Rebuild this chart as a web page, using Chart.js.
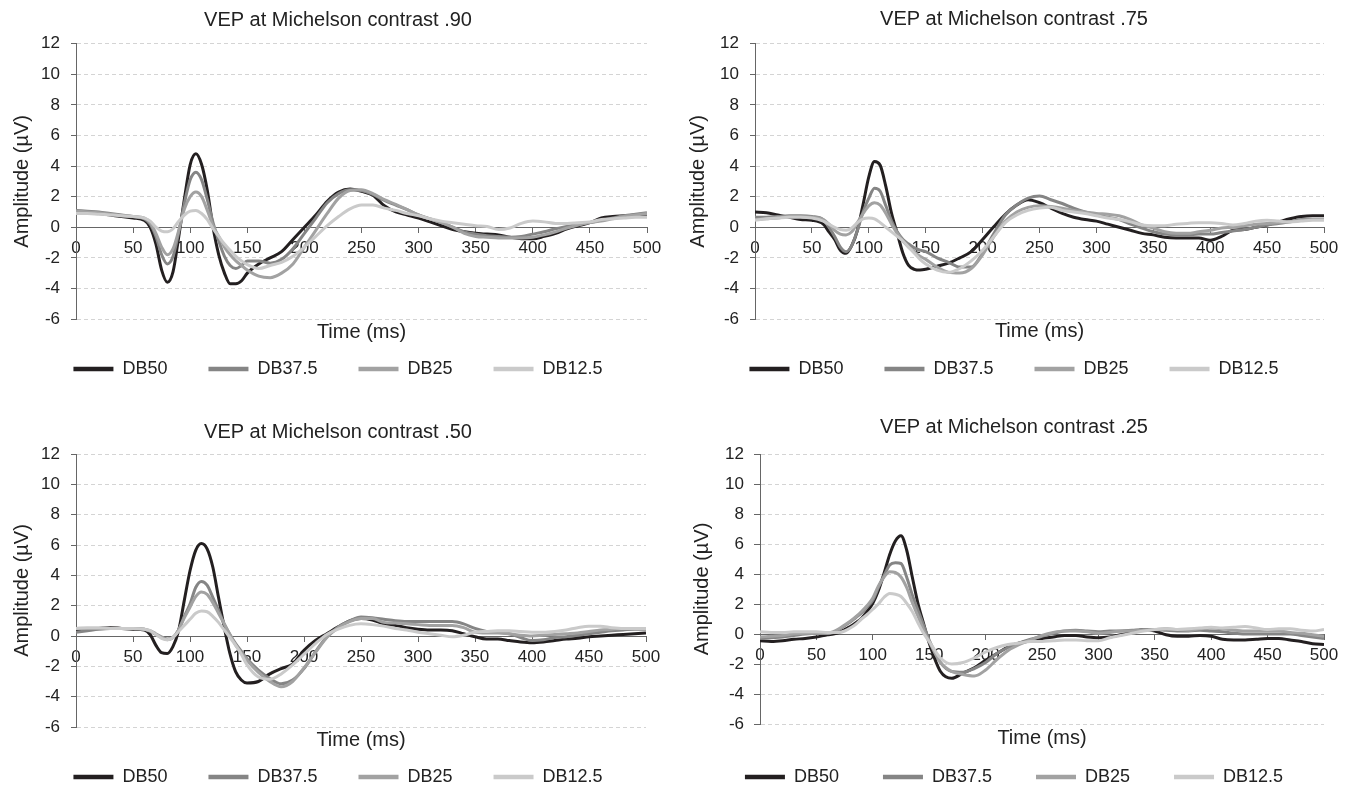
<!DOCTYPE html>
<html>
<head>
<meta charset="utf-8">
<title>VEP at Michelson contrast</title>
<script src="https://cdn.jsdelivr.net/npm/chart.js@4.4.1/dist/chart.umd.min.js"></script>
<style>
  html, body { margin: 0; padding: 0; background: #fff; }
  #page { position: relative; width: 1352px; height: 785px; overflow: hidden; }
  #page canvas { position: absolute; }
</style>
</head>
<body>
<div id="page">
  <canvas id="c90" width="676" height="392" style="left:0;top:0"></canvas>
  <canvas id="c75" width="676" height="392" style="left:676px;top:0"></canvas>
  <canvas id="c50" width="676" height="393" style="left:0;top:392px"></canvas>
  <canvas id="c25" width="676" height="393" style="left:676px;top:392px"></canvas>
</div>
<script>
// sample times (ms), shared by every trace
const TIME = [
  0, 10, 20, 30, 40, 50, 60,
  65, 70, 75, 80, 85, 90, 95, 100,
  105, 110, 115, 120, 125, 130, 135, 140, 145, 150,
  160, 170, 180, 190, 200, 210, 220, 230, 240, 250,
  260, 270, 280, 290, 300, 310, 320, 330, 340, 350,
  360, 370, 380, 390, 400, 410, 420, 430, 440, 450, 460, 470, 480, 490, 500
];

const SERIES_NAMES = ['DB50', 'DB37.5', 'DB25', 'DB12.5'];
const X_TICKS = [0, 50, 100, 150, 200, 250, 300, 350, 400, 450, 500];
const Y_TICKS = [-6, -4, -2, 0, 2, 4, 6, 8, 10, 12];

// contrast .90
const C90_DB50 = [
  1.0, 0.95, 0.9, 0.8, 0.7, 0.6, 0.45,
  0.0, -1.1, -2.8, -3.6, -2.9, -0.6, 1.9, 4.1,
  4.8, 4.1, 2.4, 0.0, -1.8, -3.0, -3.7, -3.7, -3.5, -3.0,
  -2.4, -2.0, -1.6, -0.8, 0.0, 0.8, 1.7, 2.3, 2.5, 2.35,
  2.1, 1.4, 1.0, 0.8, 0.6, 0.35, 0.1, -0.15, -0.3, -0.4,
  -0.45, -0.5, -0.65, -0.75, -0.75, -0.6, -0.4, -0.1, 0.1, 0.3, 0.6, 0.7, 0.75, 0.8, 0.85
];
const C90_DB37 = [
  1.1, 1.05, 1.0, 0.9, 0.8, 0.7, 0.55,
  0.2, -0.6, -1.8, -2.4, -1.9, -0.3, 1.6, 3.1,
  3.6, 3.1, 1.8, 0.3, -0.9, -1.9, -2.5, -2.7, -2.5, -2.2,
  -2.2, -2.35, -2.1, -1.4, -0.4, 0.6, 1.6, 2.2, 2.45, 2.4,
  2.15, 1.75, 1.45, 1.15, 0.8, 0.55, 0.3, 0.0, -0.3, -0.45,
  -0.55, -0.6, -0.65, -0.6, -0.45, -0.3, -0.1, 0.05, 0.2, 0.3, 0.45, 0.6, 0.75, 0.85, 0.95
];
const C90_DB25 = [
  1.05, 1.0, 0.95, 0.85, 0.75, 0.7, 0.6,
  0.3, -0.4, -1.3, -1.8, -1.4, -0.2, 1.2, 2.0,
  2.3, 2.0, 1.1, 0.1, -0.6, -1.3, -1.8, -2.2, -2.5, -2.8,
  -3.2, -3.3, -3.0, -2.4, -1.3, -0.2, 0.9, 1.9, 2.4, 2.45,
  2.2, 1.8, 1.5, 1.15, 0.8, 0.55, 0.3, 0.0, -0.4, -0.6,
  -0.65, -0.7, -0.7, -0.7, -0.65, -0.5, -0.3, -0.05, 0.15, 0.3, 0.4, 0.55, 0.7, 0.8, 0.9
];
const C90_DB12 = [
  0.9, 0.9, 0.85, 0.8, 0.75, 0.7, 0.6,
  0.4, 0.0, -0.25, -0.3, -0.1, 0.4, 0.8, 1.05,
  1.1, 0.9, 0.5, -0.1, -0.6, -1.1, -1.5, -1.9, -2.2, -2.45,
  -2.7, -2.5, -2.3, -1.9, -1.3, -0.6, 0.1, 0.7, 1.2, 1.45,
  1.45, 1.25, 1.1, 0.9, 0.75, 0.55, 0.4, 0.3, 0.2, 0.1,
  0.05, -0.15, -0.05, 0.25, 0.4, 0.35, 0.25, 0.25, 0.3, 0.35, 0.5, 0.55, 0.6, 0.65, 0.65
];

// contrast .75
const C75_DB50 = [
  1.0, 0.95, 0.8, 0.65, 0.5, 0.45, 0.2,
  -0.3, -0.8, -1.5, -1.7, -1.2, -0.2, 1.5, 3.3,
  4.3, 4.05, 2.65, 0.9, -0.4, -1.7, -2.5, -2.75, -2.8, -2.75,
  -2.55, -2.35, -2.0, -1.6, -0.8, 0.05, 0.85, 1.45, 1.8, 1.6,
  1.25, 0.9, 0.65, 0.5, 0.4, 0.2, 0.0, -0.2, -0.4, -0.5,
  -0.65, -0.7, -0.7, -0.7, -0.85, -0.6, -0.2, -0.15, 0.0, 0.15, 0.35, 0.55, 0.7, 0.75, 0.75
];
const C75_DB37 = [
  0.65, 0.65, 0.7, 0.75, 0.75, 0.7, 0.5,
  0.0, -0.6, -1.3, -1.6, -1.2, -0.2, 1.0, 1.9,
  2.55, 2.35, 1.4, 0.4, -0.3, -0.8, -1.1, -1.35, -1.5, -1.6,
  -2.0, -2.3, -2.6, -2.6, -1.7, -0.4, 0.8, 1.45, 1.9, 2.05,
  1.8, 1.55, 1.25, 1.0, 0.8, 0.65, 0.5, 0.2, -0.05, -0.3,
  -0.45, -0.5, -0.5, -0.45, -0.45, -0.35, -0.25, -0.15, 0.0, 0.15, 0.25, 0.35, 0.5, 0.5, 0.5
];
const C75_DB25 = [
  0.5, 0.55, 0.6, 0.7, 0.7, 0.65, 0.5,
  0.2, -0.2, -0.45, -0.5, -0.3, 0.3, 0.9, 1.4,
  1.6, 1.45, 0.9, 0.2, -0.4, -0.9, -1.3, -1.6, -1.9, -2.1,
  -2.6, -2.95, -3.0, -2.7, -1.8, -0.6, 0.4, 1.0, 1.3, 1.4,
  1.35, 1.25, 1.1, 1.0, 0.9, 0.85, 0.75, 0.5, 0.15, -0.05,
  -0.3, -0.4, -0.4, -0.3, -0.2, -0.05, 0.0, 0.1, 0.2, 0.25, 0.3, 0.35, 0.45, 0.5, 0.5
];
const C75_DB12 = [
  0.45, 0.55, 0.6, 0.65, 0.65, 0.6, 0.4,
  0.2, 0.0, -0.15, -0.2, -0.05, 0.3, 0.55, 0.6,
  0.55, 0.3, 0.0, -0.3, -0.6, -0.9, -1.3, -1.7, -2.1, -2.4,
  -2.8, -2.95, -2.7, -2.2, -1.5, -0.6, 0.3, 0.8, 1.1, 1.25,
  1.3, 1.1, 1.0, 0.9, 0.75, 0.6, 0.5, 0.35, 0.15, 0.1,
  0.1, 0.2, 0.25, 0.3, 0.3, 0.25, 0.15, 0.25, 0.4, 0.45, 0.4, 0.35, 0.4, 0.45, 0.45
];

// contrast .50
const C50_DB50 = [
  0.3, 0.45, 0.5, 0.55, 0.5, 0.45, 0.4,
  0.1, -0.6, -1.1, -1.15, -0.7, 0.35, 2.35, 4.3,
  5.65, 6.1, 5.75, 4.55, 2.55, 0.6, -1.15, -2.35, -2.9, -3.1,
  -3.0, -2.5, -2.15, -1.85, -0.95, -0.3, 0.15, 0.6, 1.0, 1.15,
  1.05, 0.8, 0.7, 0.55, 0.45, 0.4, 0.4, 0.35, 0.15, -0.05,
  -0.2, -0.2, -0.3, -0.4, -0.45, -0.4, -0.3, -0.2, -0.15, -0.05, 0.0, 0.05, 0.1, 0.15, 0.2
];
const C50_DB37 = [
  0.25, 0.35, 0.45, 0.5, 0.5, 0.5, 0.45,
  0.3, 0.1, -0.1, -0.2, -0.1, 0.4, 1.3, 2.1,
  3.2, 3.6, 3.35, 2.55, 1.7, 0.8, 0.1, -0.5, -1.0, -1.5,
  -2.25, -2.8, -3.15, -2.9, -2.15, -1.05, -0.05, 0.6, 1.0, 1.25,
  1.2, 1.1, 1.0, 0.95, 0.95, 0.95, 0.95, 0.95, 0.8, 0.5,
  0.3, 0.25, 0.15, -0.1, -0.3, -0.25, -0.1, -0.05, 0.05, 0.15, 0.25, 0.35, 0.4, 0.45, 0.45
];
const C50_DB25 = [
  0.5, 0.5, 0.5, 0.5, 0.5, 0.5, 0.45,
  0.35, 0.15, -0.05, -0.25, -0.1, 0.4, 1.2, 1.9,
  2.6, 2.9, 2.75, 2.2, 1.5, 0.8, 0.1, -0.6, -1.1, -1.6,
  -2.4, -3.0, -3.35, -3.0, -2.1, -1.1, -0.1, 0.55, 0.95, 1.15,
  1.15, 0.9, 0.85, 0.8, 0.75, 0.7, 0.7, 0.7, 0.55, 0.25,
  0.2, 0.2, 0.15, 0.05, 0.0, 0.05, 0.1, 0.15, 0.2, 0.3, 0.4, 0.45, 0.5, 0.5, 0.5
];
const C50_DB12 = [
  0.5, 0.55, 0.55, 0.5, 0.5, 0.5, 0.45,
  0.35, 0.1, -0.15, -0.25, -0.1, 0.3, 0.7, 1.1,
  1.5, 1.65, 1.6, 1.3, 0.9, 0.4, -0.1, -0.6, -1.2, -1.9,
  -2.7, -2.85, -2.5, -1.9, -1.2, -0.5, 0.1, 0.45, 0.7, 0.8,
  0.75, 0.65, 0.5, 0.4, 0.25, 0.15, 0.05, -0.05, 0.05, 0.25,
  0.3, 0.35, 0.35, 0.3, 0.25, 0.25, 0.3, 0.4, 0.55, 0.65, 0.65, 0.55, 0.5, 0.5, 0.5
];

// contrast .25
const C25_DB50 = [
  -0.45, -0.5, -0.45, -0.35, -0.3, -0.2, -0.05,
  0.0, 0.1, 0.3, 0.5, 0.75, 1.05, 1.5, 2.05,
  2.9, 4.05, 5.3, 6.2, 6.55, 5.6, 3.8, 2.05, 0.7, -0.6,
  -2.5, -2.95, -2.6, -2.25, -1.75, -1.3, -0.85, -0.6, -0.45, -0.3,
  -0.2, -0.1, -0.1, -0.2, -0.25, -0.2, -0.05, 0.1, 0.3, 0.2,
  -0.05, -0.15, -0.15, -0.1, -0.15, -0.35, -0.4, -0.4, -0.35, -0.3, -0.3, -0.4, -0.5, -0.65, -0.7
];
const C25_DB37 = [
  -0.3, -0.25, -0.2, -0.1, 0.0, 0.05, 0.05,
  0.1, 0.3, 0.55, 0.8, 1.1, 1.4, 1.8, 2.25,
  3.1, 3.9, 4.6, 4.75, 4.7, 3.8, 2.6, 1.6, 0.6, -0.4,
  -1.9, -2.5, -2.55, -2.3, -1.9, -1.3, -0.9, -0.6, -0.35, -0.15,
  0.05, 0.2, 0.25, 0.2, 0.15, 0.2, 0.2, 0.25, 0.3, 0.3,
  0.25, 0.2, 0.2, 0.25, 0.2, 0.15, 0.05, 0.0, 0.0, 0.0, 0.0, 0.0, -0.1, -0.2, -0.3
];
const C25_DB25 = [
  -0.2, -0.15, -0.1, 0.0, 0.05, 0.05, 0.05,
  0.15, 0.35, 0.6, 0.85, 1.15, 1.5, 1.9, 2.4,
  3.2, 3.8, 4.15, 4.1, 3.8, 3.1, 2.1, 1.2, 0.3, -0.5,
  -1.9, -2.5, -2.7, -2.8, -2.4, -1.7, -1.1, -0.7, -0.4, -0.1,
  0.1, 0.2, 0.2, 0.15, 0.05, 0.1, 0.2, 0.2, 0.25, 0.3,
  0.35, 0.3, 0.25, 0.35, 0.4, 0.35, 0.25, 0.2, 0.2, 0.2, 0.2, 0.1, 0.05, -0.05, -0.15
];
const C25_DB12 = [
  0.15, 0.1, 0.1, 0.15, 0.15, 0.15, 0.1,
  0.1, 0.1, 0.2, 0.4, 0.65, 1.0, 1.3, 1.65,
  2.0, 2.45, 2.7, 2.65, 2.5, 2.05, 1.5, 0.75, 0.05, -0.5,
  -1.6, -2.0, -1.9, -1.6, -1.2, -0.9, -0.7, -0.6, -0.5, -0.5,
  -0.45, -0.4, -0.4, -0.45, -0.45, -0.25, -0.1, 0.05, 0.2, 0.3,
  0.35, 0.3, 0.35, 0.4, 0.45, 0.4, 0.45, 0.5, 0.4, 0.3, 0.35, 0.35, 0.25, 0.2, 0.3
];

const SERIES_COLORS = ['#231f20', '#858585', '#a2a2a2', '#cacaca'];
const TEXT_COLOR = '#222222';
const AXIS_COLOR = '#666666';
const GRID_COLOR = '#d4d4d4';

Chart.defaults.font.family = '"Liberation Sans", Arial, sans-serif';
Chart.defaults.color = TEXT_COLOR;

// per-panel spacing, tuned against the reference picture
const LAYOUTS = {
  c90: {left: 76, right: 29, tickLen: 5, tickPad: 11, yTitlePad: 10.5, titlePad: {top: 8.3, bottom: 11.4}, xTitlePad: -25.5, legendPad: 41, bottomPad: 4},
  c75: {left: 79, right: 28, tickLen: 5, tickPad: 11, yTitlePad: 10.5, titlePad: {top: 7.7, bottom: 12}, xTitlePad: -24.7, legendPad: 41, bottomPad: 4},
  c50: {left: 76, right: 30, tickLen: 5, tickPad: 11, yTitlePad: 10.5, titlePad: {top: 28.8, bottom: 9.2}, xTitlePad: -25.3, legendPad: 41, bottomPad: -11},
  c25: {left: 84, right: 28, tickLen: 6, tickPad: 10, yTitlePad: 14, titlePad: {top: 23.8, bottom: 14.2}, xTitlePad: -26.7, legendPad: 44, bottomPad: -11}
};

function buildDatasets(series) {
  return SERIES_NAMES.map((name, i) => ({
    label: name,
    data: TIME.map((t, k) => ({x: t, y: series[i][k]})),
    borderColor: SERIES_COLORS[i],
    backgroundColor: SERIES_COLORS[i],
    borderWidth: 3,
    pointRadius: 0,
    cubicInterpolationMode: 'monotone',
    fill: false,
    order: SERIES_NAMES.length - i,
    xAxisID: 'x',
    yAxisID: 'y'
  }));
}

function drawPanel(id, title, series) {
  const L = LAYOUTS[id];
  const baseLabels = Chart.defaults.plugins.legend.labels.generateLabels;
  new Chart(document.getElementById(id), {
    type: 'line',
    data: {datasets: buildDatasets(series)},
    options: {
      responsive: false,
      animation: false,
      events: [],
      layout: {padding: {left: 0, right: 0, top: 0, bottom: L.bottomPad}},
      plugins: {
        title: {
          display: true,
          text: title,
          color: TEXT_COLOR,
          font: {size: 20, weight: 'normal'},
          padding: L.titlePad
        },
        legend: {
          position: 'bottom',
          labels: {
            usePointStyle: true,
            pointStyle: 'line',
            pointStyleWidth: 40,
            padding: L.legendPad,
            color: TEXT_COLOR,
            font: {size: 18},
            sort: (a, b) => a.datasetIndex - b.datasetIndex,
            generateLabels: (chart) => baseLabels(chart).map(item => Object.assign(item, {
              lineWidth: 4.5,
              strokeStyle: SERIES_COLORS[item.datasetIndex],
              pointStyle: 'line'
            }))
          }
        },
        tooltip: {enabled: false}
      },
      scales: {
        x: {
          type: 'linear',
          position: {y: 0},
          min: X_TICKS[0],
          max: X_TICKS[X_TICKS.length - 1],
          afterFit: (s) => { s.height = 0; },
          afterBuildTicks: (s) => { s.ticks = X_TICKS.map(v => ({value: v})); },
          ticks: {autoSkip: false, maxRotation: 0, padding: 6.3, color: TEXT_COLOR, font: {size: 17}},
          grid: {drawOnChartArea: false, drawTicks: true, tickLength: 5, tickColor: AXIS_COLOR, color: AXIS_COLOR},
          border: {display: true, color: AXIS_COLOR, width: 1}
        },
        x2: {
          type: 'linear',
          axis: 'x',
          position: 'bottom',
          min: 0,
          max: 1,
          afterFit: (s) => { s.height = 0; },
          ticks: {display: false},
          grid: {display: false},
          border: {display: false},
          title: {display: true, text: 'Time (ms)', color: TEXT_COLOR, font: {size: 20}, padding: {top: 0, bottom: L.xTitlePad}}
        },
        y: {
          type: 'linear',
          position: 'left',
          min: Y_TICKS[0],
          max: Y_TICKS[Y_TICKS.length - 1],
          afterFit: (s) => { s.width = L.left; },
          afterBuildTicks: (s) => { s.ticks = Y_TICKS.map(v => ({value: v})); },
          ticks: {padding: L.tickPad, color: TEXT_COLOR, font: {size: 17}},
          grid: {color: GRID_COLOR, lineWidth: 1, drawTicks: true, tickLength: L.tickLen, tickColor: AXIS_COLOR, tickBorderDash: []},
          border: {display: true, color: AXIS_COLOR, width: 1, dash: [4, 3]},
          title: {display: true, text: 'Amplitude (µV)', color: TEXT_COLOR, font: {size: 20}, padding: {top: L.yTitlePad, bottom: 0}}
        },
        yRight: {
          type: 'linear',
          axis: 'y',
          position: 'right',
          min: 0,
          max: 1,
          afterFit: (s) => { s.width = L.right; },
          ticks: {display: false},
          grid: {display: false},
          border: {display: false}
        }
      }
    }
  });
}

drawPanel('c90', 'VEP at Michelson contrast .90', [C90_DB50, C90_DB37, C90_DB25, C90_DB12]);
drawPanel('c75', 'VEP at Michelson contrast .75', [C75_DB50, C75_DB37, C75_DB25, C75_DB12]);
drawPanel('c50', 'VEP at Michelson contrast .50', [C50_DB50, C50_DB37, C50_DB25, C50_DB12]);
drawPanel('c25', 'VEP at Michelson contrast .25', [C25_DB50, C25_DB37, C25_DB25, C25_DB12]);
</script>
</body>
</html>
